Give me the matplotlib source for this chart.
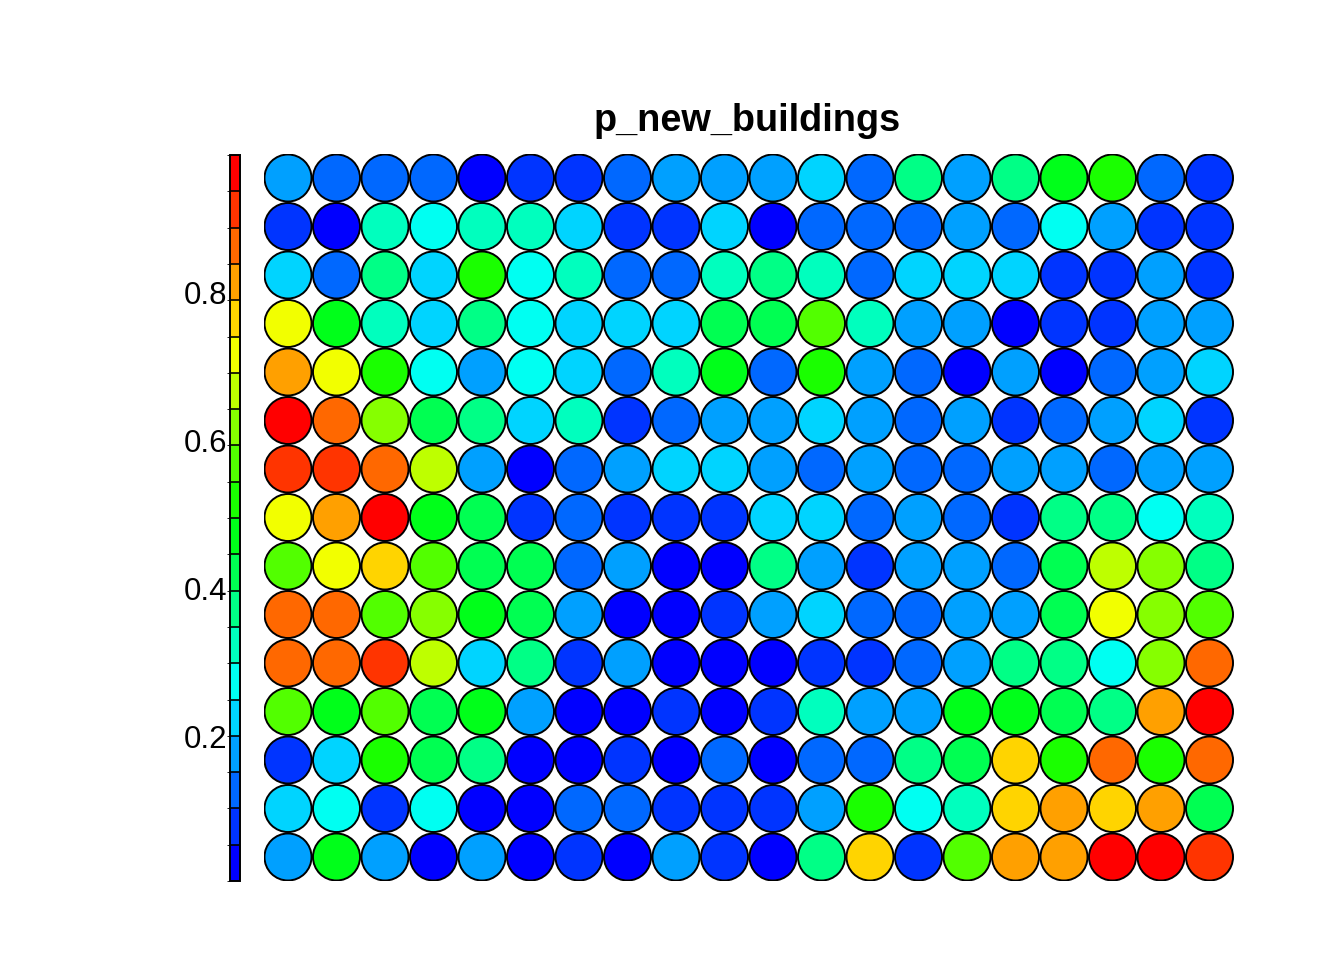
import numpy as np
import matplotlib
matplotlib.use("Agg")
import matplotlib.pyplot as plt
from matplotlib.colors import LinearSegmentedColormap, ListedColormap, BoundaryNorm
from matplotlib.patches import Circle
import matplotlib.colorbar as mcolorbar

plt.rcParams['font.family'] = ['Liberation Sans', 'DejaVu Sans']

# SOM node property, rows listed top to bottom, 20 columns each
p_new_buildings = [
    [.18, .13, .13, .13, .03, .08, .08, .13, .18, .18, .18, .23, .13, .37, .18, .37, .47, .52, .13, .08],
    [.08, .03, .325, .275, .325, .325, .23, .08, .08, .23, .03, .13, .13, .13, .18, .13, .275, .18, .08, .08],
    [.23, .13, .37, .23, .52, .275, .325, .13, .13, .325, .37, .325, .13, .23, .23, .23, .08, .08, .18, .08],
    [.715, .47, .325, .23, .37, .275, .23, .23, .23, .42, .42, .57, .325, .18, .18, .03, .08, .08, .18, .18],
    [.815, .715, .52, .275, .18, .275, .23, .13, .325, .47, .13, .52, .18, .13, .005, .18, .03, .13, .18, .23],
    [.986, .86, .62, .42, .37, .23, .325, .08, .13, .18, .18, .23, .18, .13, .18, .08, .13, .18, .23, .08],
    [.91, .91, .86, .67, .18, .03, .13, .18, .23, .23, .18, .13, .18, .13, .13, .18, .18, .13, .18, .18],
    [.715, .815, .96, .47, .42, .08, .13, .08, .08, .08, .23, .23, .13, .18, .13, .08, .37, .37, .275, .325],
    [.57, .715, .765, .57, .42, .42, .13, .18, .03, .03, .37, .18, .08, .18, .18, .13, .42, .67, .62, .37],
    [.86, .86, .57, .62, .47, .42, .18, .03, .03, .08, .18, .23, .13, .13, .18, .18, .42, .715, .62, .57],
    [.86, .86, .91, .67, .23, .37, .08, .18, .03, .03, .03, .08, .08, .13, .18, .37, .37, .275, .62, .86],
    [.57, .47, .57, .42, .47, .18, .03, .03, .08, .03, .08, .325, .18, .18, .47, .47, .42, .37, .815, .96],
    [.08, .23, .52, .42, .37, .03, .03, .08, .03, .13, .03, .13, .13, .37, .42, .765, .52, .86, .52, .86],
    [.23, .275, .08, .275, .03, .03, .13, .13, .08, .08, .08, .18, .52, .275, .325, .765, .815, .765, .815, .42],
    [.18, .47, .18, .03, .18, .03, .08, .03, .18, .08, .03, .37, .765, .08, .57, .815, .815, .96, .96, .91],
]
title = "p_new_buildings"
ramp = ["#0000FF", "#00FFFF", "#00FF00", "#FFFF00", "#FF0000"]
n_colors = 20
cbar_ticks = [0.2, 0.4, 0.6, 0.8]

vals = np.array(p_new_buildings)
nrow, ncol = vals.shape

base = LinearSegmentedColormap.from_list("ramp", ramp)
cmap = ListedColormap(base(np.linspace(0, 1, n_colors)))
bounds = np.linspace(vals.min(), vals.max(), n_colors + 1)
norm = BoundaryNorm(bounds, n_colors)

W, H = 1344, 960
fig = plt.figure(figsize=(W / 100, H / 100), dpi=100)

# main map
ax = fig.add_axes([263.75 / W, (H - 881.25) / H, 970 / W, 727.5 / H])
for r in range(nrow):
    for c in range(ncol):
        ax.add_patch(Circle((c + 1, nrow - r), 0.485,
                            facecolor=cmap(norm(vals[r, c])),
                            edgecolor="black", linewidth=1.4))
ax.set_xlim(0.5, ncol + 0.5)
ax.set_ylim(0.5, nrow + 0.5)
ax.axis("off")

fig.text(747 / W, (H - 121) / H, title, ha="center", va="center",
         fontsize=27.3, fontweight="bold")

# colour key on the left
cax = fig.add_axes([230 / W, (H - 881) / H, 10 / W, 726 / H])
cb = mcolorbar.ColorbarBase(cax, cmap=cmap, norm=norm, boundaries=bounds,
                            drawedges=True, orientation="vertical")
cb.outline.set_linewidth(1.4)
cb.dividers.set_linewidth(1.2)
cb.dividers.set_color("black")
cax.yaxis.set_ticks_position("left")
cb.set_ticks(cbar_ticks)
cb.set_ticklabels([str(t) for t in cbar_ticks])
cax.tick_params(axis="y", length=0, pad=2, labelsize=22.5)

fig.savefig("out.png", dpi=100)
